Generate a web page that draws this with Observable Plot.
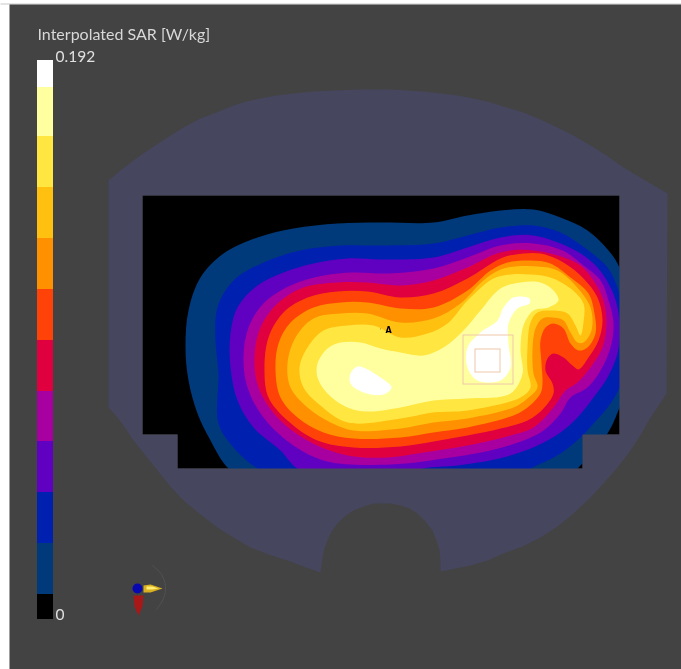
<!DOCTYPE html>
<html><head><meta charset="utf-8">
<style>html,body{margin:0;padding:0;background:#fff}svg{display:block;filter:blur(0.45px)}</style>
<script src="https://cdn.jsdelivr.net/npm/d3@7"></script>
<script src="https://cdn.jsdelivr.net/npm/@observablehq/plot@0.6"></script>
</head><body><div id="chart"></div>
<script>
const bandNames = ["L0","L1","L2","L3","L4","L5","L6","L7","L8","L9","L10","L11"];
const bandColors = ["#000000","#003a7a","#0020b0","#6000c0","#a800a0","#e00040","#ff4208","#ff9000","#ffc010","#ffe640","#ffffa0","#ffffff"];
const legendBreaks = [619,594,543,492,441,391,340,289,238,187,136,87,60];

const topStrip = [[0,3],[681,3],[681,4],[0,4]];
const panel = [[9,4],[681,4],[681,669],[9,669]];
const cavity = [[142,195],[619,195],[619,434],[582,434],[582,468],[177,468],[177,434],[142,434]];
const phantomRing = [[108,195],[108,180],[120,170],[133,160],[150,148],[167,137],[183,127],[200,118],[216,112],[233,105],[246,101],[260,98],[276,95],[293,93],[313,91],[333,90],[360,89],[390,89],[406,90],[423,91],[440,93],[457,95],[473,98],[490,102],[506,107],[523,112],[540,119],[557,127],[573,135],[590,145],[606,155],[623,167],[645,180],[667,193],[666,393],[659,404],[650,417],[641,433],[630,450],[617,467],[603,483],[589,498],[573,513],[557,526],[540,537],[522,546],[503,553],[487,560],[470,565],[455,568],[440,571],[440,560],[439,550],[436,540],[432,530],[425,521],[417,513],[409,508],[400,505],[390,503],[373,503],[363,506],[353,510],[344,516],[337,523],[331,531],[327,540],[324,548],[322,557],[320,572],[303,566],[287,560],[268,554],[250,547],[233,537],[217,527],[200,514],[183,500],[169,485],[157,470],[145,455],[133,440],[125,428],[117,417],[108,407],[108,195],[142,195],[142,434],[177,434],[177,468],[582,468],[582,434],[619,434],[619,195],[142,195]];

const navyBand = [[228,468],[210,440],[197,413],[188,380],[185,347],[188,310],[200,277],[223,253],[257,237],[293,228],[337,223],[380,222],[433,222],[467,215],[500,210],[533,209],[560,217],[587,230],[608,250],[619,267],[632,310],[634,360],[619,407],[607,433],[582,463],[560,480],[400,490],[250,480]];
const blueBand = [[257,468],[233,447],[218,423],[218,373],[215,340],[217,307],[233,280],[263,262],[300,250],[340,245],[380,245],[433,243],[467,235],[500,227],[533,225],[560,232],[588,250],[607,267],[617,287],[624,320],[628,350],[619,387],[607,407],[593,423],[582,435],[560,453],[530,468],[510,478],[400,485],[290,480]];
const violetBand = [[297,468],[280,450],[253,427],[237,400],[230,367],[230,333],[237,307],[257,285],[283,272],[313,263],[347,258],[380,259],[433,257],[467,247],[500,237],[533,235],[575,250],[597,267],[610,287],[617,307],[619,330],[617,353],[607,377],[593,397],[577,417],[560,432],[537,445],[503,457],[457,465],[423,468],[400,476],[340,480]];
const magentaBand = [[327,461],[293,445],[263,417],[247,387],[243,357],[248,327],[263,303],[290,285],[323,275],[353,272],[387,273],[433,268],[467,257],[500,245],[533,243],[562,250],[583,265],[600,280],[608,300],[613,323],[610,347],[600,370],[587,387],[570,397],[560,413],[543,430],[523,440],[490,450],[450,457],[390,464]];
const crimsonBand = [[347,455],[307,440],[277,417],[258,387],[254,357],[260,327],[277,303],[303,287],[337,282],[367,282],[400,285],[433,280],[467,267],[500,252],[533,250],[577,263],[593,280],[603,300],[606,323],[602,347],[590,367],[577,382],[565,390],[553,407],[533,427],[510,435],[467,445],[423,452],[387,457]];
const orangeredBand = [[353,447],[317,440],[287,420],[268,397],[264,370],[268,337],[283,312],[307,297],[337,291],[367,291],[400,297],[433,293],[467,278],[500,258],[515,254],[540,253],[563,262],[583,278],[597,297],[602,320],[598,340],[588,357],[578,369],[572,365],[563,357],[553,353],[547,358],[545,370],[552,383],[553,393],[543,408],[527,420],[500,428],[467,435],[433,441],[400,446]];
const orangeBand = [[353,438],[323,432],[297,417],[280,397],[275,370],[278,343],[290,322],[313,307],[340,302],[367,302],[400,308],[433,307],[467,290],[490,270],[507,262],[530,260],[550,263],[570,277],[588,293],[594,313],[595,333],[587,347],[578,350],[570,343],[563,328],[553,323],[545,327],[540,340],[541,363],[542,383],[540,393],[527,407],[513,415],[467,427],[433,432],[400,437]];
const goldBand = [[353,430],[330,422],[307,407],[290,387],[287,363],[295,337],[313,318],[340,313],[367,313],[400,322],[433,318],[460,303],[483,280],[503,268],[537,266],[557,270],[575,285],[590,307],[591,330],[583,342],[577,342],[570,332],[563,320],[552,317],[542,318],[535,328],[532,350],[533,373],[537,387],[527,398],[513,407],[467,418],[433,422],[400,428]];
const yellowBand = [[347,422],[320,405],[303,387],[299,367],[307,347],[323,330],[347,325],[373,325],[400,337],[427,333],[447,323],[467,300],[493,278],[510,274],[530,274],[550,277],[570,288],[583,303],[583,322],[580,335],[575,325],[567,313],[550,310],[537,312],[530,322],[527,347],[527,370],[530,387],[520,397],[467,410],[433,412],[400,418]];
const paleBand = [[367,411],[347,407],[327,393],[317,377],[317,363],[327,348],[340,342],[360,342],[380,348],[400,352],[423,355],[443,347],[463,330],[480,310],[500,288],[520,282],[540,282],[553,290],[558,300],[548,307],[533,310],[523,325],[520,350],[522,373],[510,393],[467,398],[433,400],[400,407]];
const whiteLeft = [[357,366],[350,373],[350,383],[363,392],[383,394],[391,387],[377,375],[365,368]];
const whiteRight = [[529,298],[513,297],[503,307],[497,320],[480,332],[467,347],[467,367],[477,380],[500,380],[510,367],[508,343],[508,323],[517,308],[529,303]];

const sensorBoxes = [{x1:463,x2:513,y1:335,y2:384},{x1:475,x2:500,y1:349,y2:372}];
const yellowArrow = [[143,585],[150,584],[162,588],[150,592],[143,592]];
const yellowGlint = [[146,586],[152,586],[158,588],[152,589],[146,589]];
const redArrow = [[133,595],[143,595],[142,606],[138,615],[134,606]];
const triadArc = [[152,565],[161,574],[165,586],[163,598],[156,609]];

const px = d => d[0], py = d => d[1];
const band = (pts, name) => Plot.line(pts, {x:px, y:py, fill:() => name, stroke:"none", curve:"catmull-rom-closed"});
const poly = (pts, color) => Plot.line(pts, {x:px, y:py, fill:color, stroke:"none"});
const legend = bandNames.map((name,i) => ({name, y1:legendBreaks[i+1], y2:legendBreaks[i]}));

const chart = Plot.plot({
  width:681, height:669, margin:0,
  style:{background:"#ffffff", overflow:"hidden"},
  x:{domain:[0,681], range:[0,681], axis:null},
  y:{domain:[0,669], range:[0,669], axis:null},
  color:{type:"ordinal", domain:bandNames, range:bandColors},
  marks:[
    poly(topStrip,"#c8c8c8"),
    poly(panel,"#434343"),
    poly(cavity,"#000000"),
    band(navyBand,"L1"), band(blueBand,"L2"), band(violetBand,"L3"),
    band(magentaBand,"L4"), band(crimsonBand,"L5"), band(orangeredBand,"L6"),
    band(orangeBand,"L7"), band(goldBand,"L8"), band(yellowBand,"L9"),
    band(paleBand,"L10"), band(whiteLeft,"L11"), band(whiteRight,"L11"),
    poly(phantomRing,"#46465f"),
    Plot.rect(sensorBoxes,{x1:"x1",x2:"x2",y1:"y1",y2:"y2",fill:"none",stroke:"#f0c8a8",strokeWidth:1}),
    Plot.text(["A"],{x:[388],y:[330],text:d=>d,fill:"#000",fontSize:8,fontWeight:"bold",fontFamily:"DejaVu Sans"}),
    Plot.text(["'"],{x:[380],y:[330],text:d=>d,fill:"#c08040",fontSize:7,fontFamily:"DejaVu Sans"}),
    Plot.rect(legend,{x1:()=>37,x2:()=>53,y1:"y1",y2:"y2",fill:"name"}),
    Plot.text(["Interpolated SAR [W/kg]"],{x:[37],y:[34],text:d=>d,textAnchor:"start",fill:"#d8d8d8",fontSize:16,fontFamily:"Lato"}),
    Plot.text(["0.192"],{x:[55],y:[57],text:d=>d,textAnchor:"start",fill:"#e0e0e0",fontSize:15.5,fontFamily:"Lato"}),
    Plot.text(["0"],{x:[55],y:[615],text:d=>d,textAnchor:"start",fill:"#e0e0e0",fontSize:15.5,fontFamily:"Lato"}),
    Plot.line(triadArc,{x:px,y:py,stroke:"#525252",strokeWidth:1,curve:"catmull-rom"}),
    poly(yellowArrow,"#d8b020"),
    poly(yellowGlint,"#ffec70"),
    poly(redArrow,"#a81818"),
    Plot.dot([[137,588]],{x:px,y:py,r:5,fill:"#0808b0",stroke:"none"})
  ]
});
document.getElementById("chart").appendChild(chart);
</script></body></html>
